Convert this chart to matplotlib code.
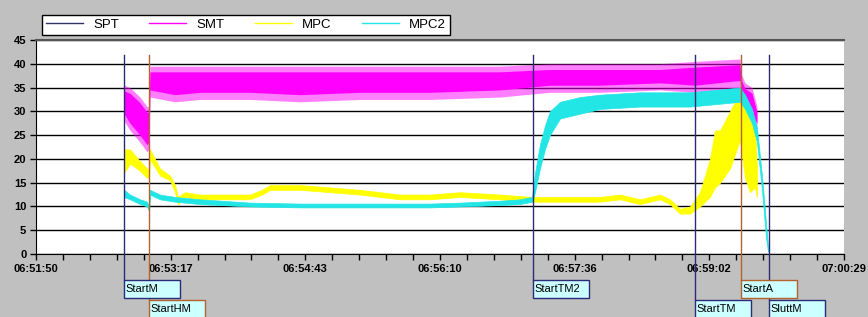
import matplotlib.pyplot as plt
import matplotlib.transforms as mtransforms
from matplotlib.lines import Line2D
from matplotlib.patches import Rectangle

plt.rcParams['font.family'] = ['Liberation Sans', 'DejaVu Sans']

# time axis: seconds after 06:51:50
tick_secs = [0, 86.5, 173, 259.5, 346, 432.5, 519]
tick_labels = ['06:51:50', '06:53:17', '06:54:43', '06:56:10',
               '06:57:36', '06:59:02', '07:00:29']

# SMT (band low / high)
t_smt = [56.5, 60.4, 66.8, 71.3, 72.6, 73.2, 89.3, 105.3, 137.5, 169.6, 208.1,
         253.1, 298.0, 330.1, 362.3, 400.8, 423.3, 452.2, 452.8, 455.4, 459.9, 463.1]
smt_lo = [28, 26, 23.5, 21.5, 22, 33, 32, 32.5, 32.5, 32, 32.5,
          32.5, 33, 34, 34, 34.5, 34, 35, 33, 30, 28, 26]
smt_hi = [35.5, 35, 33, 31, 31, 39.5, 39.5, 39.5, 39.5, 39.5, 39.5,
          39.5, 39.5, 40, 40, 40, 40.5, 41, 38, 36, 35, 31]

# MPC
t_mpc = [56.5, 60.4, 66.8, 71.3, 72.6, 73.2, 79.6, 86.1, 89.3, 91.2, 95.7, 105.3,
         137.5, 145.2, 150.3, 169.6, 188.8, 208.1, 233.8, 253.1, 272.3, 298.0,
         318.6, 336.6, 362.3, 375.1, 388.0, 400.8, 407.2, 413.6, 420.1, 426.5,
         432.9, 436.1, 439.4, 445.8, 449.0, 452.2, 455.4, 458.6, 461.8, 463.1]
mpc_lo = [17, 19, 17.5, 16, 16, 20, 16.5, 15.5, 13, 10.5, 12, 11.5,
          11.5, 12.5, 13.5, 13.5, 13, 12.5, 11.5, 11.5, 12, 11.5,
          11, 11, 11, 11.5, 10.5, 11.5, 10.5, 8.5, 8.5, 10,
          12, 14, 15, 18, 21, 24, 16, 13, 14, 12]
mpc_hi = [22, 22, 19.5, 18, 17.5, 22, 18, 16.5, 14.5, 12, 13, 12.5,
          12.5, 13.5, 14.5, 14.5, 14, 13.5, 12.5, 12.5, 13, 12.5,
          12, 12, 12, 12.5, 11.5, 12.5, 11.5, 9.5, 10, 13,
          20, 26, 26, 30, 32, 33, 31, 28, 26, 18]

# MPC2
t_mpc2 = [56.5, 60.4, 66.8, 71.3, 72.6, 73.2, 79.6, 89.3, 105.3, 137.5, 169.6,
          208.1, 253.1, 272.3, 298.0, 310.9, 318.6, 320.5, 323.7, 326.9, 330.1,
          336.6, 349.4, 362.3, 388.0, 420.1, 452.2, 455.4, 459.9, 463.1, 466.3,
          468.9, 470.2]
mpc2_lo = [12, 11.5, 10.5, 10, 9, 12.5, 11.5, 11, 10.5, 10, 9.8,
           9.8, 9.8, 10, 10.3, 10.5, 11, 13, 18, 22, 25,
           28.5, 29.5, 30.5, 31, 31, 32, 30.5, 27.5, 23.5, 13.5,
           3.5, 0.5]
mpc2_hi = [13.5, 12.5, 11.5, 11, 10, 13.5, 12.5, 12, 11.5, 10.8, 10.6,
           10.6, 10.6, 10.8, 11.2, 11.5, 12, 17, 23, 27, 30,
           32, 33, 33.5, 34, 34, 35, 33.5, 30.5, 26.5, 16.5,
           6.5, 1.5]

marker_names = ['StartM', 'StartHM', 'StartTM2', 'StartTM', 'StartA', 'SluttM']
marker_secs = [56.5, 72.6, 319.0, 423.0, 452.8, 470.8]

navy = '#2b2b78'
brown = '#b5612a'
marker_cols = [navy, brown, navy, navy, brown, navy]
marker_row = [0, 1, 0, 1, 0, 1]

fig = plt.figure(figsize=(8.68, 3.17), dpi=100, facecolor='#c0c0c0')
ax = fig.add_axes([36/868, 63/317, 808/868, 214/317])
ax.set_facecolor('white')

ax.plot([], [], color='#333366', lw=1)  # SPT has no visible data

ax.fill_between(t_smt, smt_lo, smt_hi, color='#ff00ff', alpha=0.5, lw=0)
ax.fill_between(t_smt, [v + 1.5 for v in smt_lo], [v - 1.2 for v in smt_hi],
                color='#ff00ff', lw=0)
ax.fill_between(t_mpc, mpc_lo, mpc_hi, facecolor='#ffff00', edgecolor='#ffff00', lw=0.5)
ax.fill_between(t_mpc2, mpc2_lo, mpc2_hi, facecolor='#22e5e5', edgecolor='#22e5e5', lw=0.5)

ax.set_xlim(0, 519)
ax.set_ylim(0, 45)
ax.set_xticks(tick_secs)
ax.set_xticklabels(tick_labels, fontweight='bold', fontsize=8)
ax.set_xticks([tick_secs[0] + i * 86.5 / 5 for i in range(31)], minor=True)
ax.set_yticks(range(0, 46, 5))
ax.set_yticklabels([str(v) for v in range(0, 46, 5)], fontweight='bold', fontsize=8)
ax.tick_params(axis='both', which='both', direction='out', length=4, width=1, color='black')
ax.tick_params(axis='x', pad=3)
ax.tick_params(axis='y', pad=3)
ax.yaxis.grid(True, color='black', lw=1)
ax.set_axisbelow(True)
ax.spines['right'].set_visible(False)
ax.spines['top'].set_color('#555555')
ax.spines['top'].set_linewidth(1.5)
for s in ['left', 'bottom']:
    ax.spines[s].set_color('black')

# event markers with label boxes below the axis
trans = mtransforms.blended_transform_factory(ax.transData, ax.transAxes)
box_w = 56 * 519 / 808
box_h = 18 / 214
for name, t, col, row in zip(marker_names, marker_secs, marker_cols, marker_row):
    top = (254 - (280 if row == 0 else 300)) / 214
    ax.add_line(Line2D([t, t], [0.93, top], transform=trans, color=col, lw=1,
                       clip_on=False, zorder=5))
    ax.add_patch(Rectangle((t, top - box_h), box_w, box_h, transform=trans,
                           facecolor='#ccffff', edgecolor=col, lw=1,
                           clip_on=False, zorder=6))
    ax.text(t + 1.2, top - box_h / 2, name, transform=trans, ha='left', va='center',
            fontsize=8, zorder=7, clip_on=False)

handles = [Line2D([], [], color='#333366', lw=1),
           Line2D([], [], color='#ff00ff', lw=1),
           Line2D([], [], color='#ffff00', lw=1),
           Line2D([], [], color='#22e5e5', lw=1)]
leg = fig.legend(handles, ['SPT', 'SMT', 'MPC', 'MPC2'], loc='lower left',
                 bbox_to_anchor=(42/868, 1 - 35/317, 408/868, 22/317), mode='expand',
                 ncol=4, fancybox=False, edgecolor='black', fontsize=9.5,
                 handlelength=2.8, borderaxespad=0, borderpad=0.3, framealpha=1)
leg.get_frame().set_linewidth(1)

fig.savefig('out.png', dpi=100, facecolor=fig.get_facecolor())
